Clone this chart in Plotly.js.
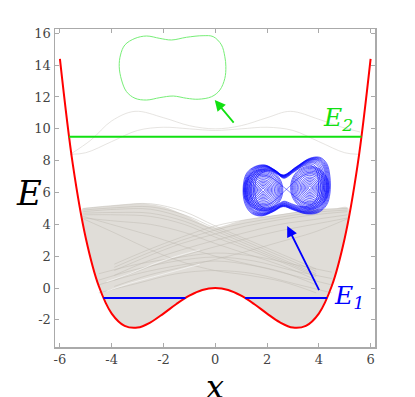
<!DOCTYPE html>
<html>
<head>
<meta charset="utf-8">
<script src="https://cdn.plot.ly/plotly-3.0.1.min.js"></script>
<style>
  html, body { margin: 0; padding: 0; background: #fff; }
  #chart { width: 415px; height: 397px; }
</style>
</head>
<body>
<div id="chart"></div>
<script>
// potential V(x)
const potX = [-6, -5.5, -5, -4.5, -4, -3.5, -3, -2.5, -2, -1.5, -1, -0.5, 0, 0.5, 1, 1.5, 2, 2.5, 3, 3.5, 4, 4.5, 5, 5.5, 6];
const potE = [14.4, 7.75, 3.13, 0.13, -1.6, -2.37, -2.48, -2.15, -1.6, -1.0, -0.48, -0.12, 0, -0.12, -0.48, -1.0, -1.6, -2.15, -2.48, -2.37, -1.6, 0.13, 3.13, 7.75, 14.4];

// energy levels
const e1X = [-4.32, -1.15, null, 1.15, 4.32];
const e1E = [-0.62, -0.62, null, -0.62, -0.62];
const e2X = [-5.65, 5.65];
const e2E = [9.5, 9.5];

// top edge of the grey cloud of trajectories
const cloudTopX = [-5.15, -4.5, -3.5, -2.7, -2, -1.2, -0.3, 0, 0.5, 1.2, 2, 3, 4, 4.6, 5.12];
const cloudTopE = [5.0, 5.1, 5.25, 5.3, 5.1, 4.6, 3.9, 3.8, 4.0, 4.3, 4.5, 4.75, 4.95, 5.0, 5.05];

// individual grey trajectories
const leftRunX = [-5.1, -3.8, -2.5, -1.2, 0, 1.3, 2.6, 3.9];
const leftRuns = [
  [5.0, 5.2, 5.3, 4.8, 3.9, 3.0, 2.1, 1.2],
  [4.9, 5.05, 5.1, 4.6, 3.75, 2.85, 1.95, 1.05],
  [4.8, 4.95, 4.95, 4.4, 3.6, 2.7, 1.8, 0.9],
  [4.7, 4.75, 4.7, 4.2, 3.4, 2.55, 1.7, 0.8],
  [4.6, 4.6, 4.5, 4.0, 3.2, 2.4, 1.6, 0.7],
  [4.4, 4.2, 4.0, 3.5, 2.8, 2.1, 1.4, 0.5],
  [4.5, 3.9, 3.3, 2.6, 2.0, 1.5, 1.0, 0.2],
  [4.35, 3.4, 2.4, 1.6, 1.1, 0.8, 0.4, -0.3]
];
const rightRunX = [5.1, 3.8, 2.5, 1.2, 0, -1.3, -2.6, -3.9];
const rightRuns = [
  [5.0, 4.9, 4.6, 4.3, 3.9, 3.2, 2.4, 1.5],
  [4.9, 4.75, 4.45, 4.1, 3.65, 3.0, 2.2, 1.3],
  [4.8, 4.6, 4.3, 3.9, 3.4, 2.8, 2.0, 1.1],
  [4.6, 4.3, 4.0, 3.5, 3.0, 2.4, 1.7, 0.8],
  [4.4, 4.0, 3.6, 3.1, 2.6, 2.0, 1.3, 0.5],
  [4.35, 3.5, 2.9, 2.3, 1.8, 1.3, 0.8, 0.1]
];
const lowRunX = [-4.5, -3, -1.5, 0, 1.5, 3, 4.5];
const lowRuns = [
  [0.9, 1.5, 1.9, 2.2, 2.0, 1.5, 1.0],
  [0.5, 1.2, 1.7, 1.95, 1.7, 1.1, 0.6],
  [0.2, 0.9, 1.4, 1.7, 1.4, 0.8, 0.2],
  [-0.3, 0.3, 0.9, 1.1, 0.9, 0.3, -0.3]
];
// light streaks inside the cloud
const gapRunX = [-4.2, -3.3, -2.4, -1.5, -0.6];
const gapRuns = [
  [0.4, 0.9, 1.5, 2.0, 2.4],
  [-0.2, 0.3, 0.7, 1.1, 1.5]
];

// the two faint trajectories above E2
const highAX = [-5.6, -4.8, -4, -3.1, -2, -1, 0, 1, 2, 2.9, 4, 4.9, 5.6];
const highAE = [8.4, 9.3, 10.5, 11.1, 10.7, 10.2, 10.0, 10.2, 10.7, 11.1, 10.6, 10.1, 9.8];
const highBX = [-5.6, -5, -4, -3, -2, -1, 0, 1, 2, 3, 4, 5, 5.55];
const highBE = [8.4, 8.5, 9.2, 9.9, 10.1, 10.0, 9.9, 10.0, 10.1, 9.9, 9.2, 8.5, 8.4];

// green inset (regular orbit at E2)
const greenLoopX = [-1.69, -1.11, -0.47, -0.08, 0.24, 0.37, 0.41, 0.37, 0.18, -0.14, -0.66, -1.11, -1.62, -2.14, -2.65, -3.1, -3.43, -3.62, -3.71, -3.66, -3.49, -3.1, -2.65, -2.14, -1.69];
const greenLoopE = [15.58, 15.75, 15.85, 15.79, 15.27, 14.53, 13.91, 13.17, 12.44, 12.02, 11.86, 11.92, 12.06, 11.96, 11.81, 11.92, 12.34, 13.07, 13.91, 14.64, 15.27, 15.68, 15.83, 15.68, 15.58];

// blue inset (chaotic orbit at E1)
const blueOuterX = [2.62, 3.14, 3.65, 4.04, 4.3, 4.43, 4.43, 4.3, 3.98, 3.52, 3.01, 2.62, 2.24, 1.79, 1.4, 1.14, 1.08, 1.21, 1.53, 1.92, 2.3, 2.62];
const blueOuterE = [7.1, 7.63, 8.15, 8.21, 7.84, 7.0, 5.95, 5.22, 4.74, 4.66, 4.91, 5.12, 4.8, 4.53, 4.7, 5.33, 6.37, 7.21, 7.63, 7.73, 7.42, 7.1];
const blueOuterScales = [1, 0.98, 0.96, 0.94, 0.92, 0.9, 0.87, 0.84, 0.81, 0.77, 0.73];
const ringX = [1, 0.87, 0.5, 0, -0.5, -0.87, -1, -0.87, -0.5, 0, 0.5, 0.87, 1];
const ringE = [0, 0.5, 0.87, 1, 0.87, 0.5, 0, -0.5, -0.87, -1, -0.87, -0.5, 0];
const lobeX = [1.85, 3.65];
const lobeE = [6.16, 6.3];
const lobeRadX = [0.76, 0.74];
const lobeRadE = [1.3, 1.35];
const lobeScales = [1, 0.95, 0.9, 0.84, 0.78, 0.72, 0.65, 0.58, 0.5, 0.43, 0.36, 0.29, 0.22, 0.15, 0.08];
const eightX = [2.75, 3.3, 3.9, 4.3, 4.1, 3.5, 2.75, 2.1, 1.5, 1.15, 1.4, 2.0, 2.75];
const eightE = [6.2, 7.0, 7.3, 6.5, 5.5, 5.3, 6.2, 7.0, 7.1, 6.3, 5.3, 5.2, 6.2];
const eightScales = [1, 0.9];

const xTickVals = [-6, -4, -2, 0, 2, 4, 6];
const xTickText = ['-6', '-4', '-2', '0', '2', '4', '6'];
const yTickVals = [-2, 0, 2, 4, 6, 8, 10, 12, 14, 16];
const yTickText = ['-2', '0', '2', '4', '6', '8', '10', '12', '14', '16'];

const RED = '#ff0000';
const BLUE = '#0000ff';
const GREEN = '#11e011';
const GREY = 'rgba(190,185,178,0.6)';

function line(x, y, color, width, extra) {
    return Object.assign({
        x: x, y: y, type: 'scatter', mode: 'lines', hoverinfo: 'skip',
        showlegend: false,
        line: { color: color, width: width, shape: 'spline', smoothing: 1 }
    }, extra || {});
}

// scale a typed shape about a centre
function scaled(xs, ys, cx, cy, sx, sy) {
    return [xs.map(v => cx + (v - cx) * sx), ys.map(v => cy + (v - cy) * sy)];
}

const traces = [];

// grey cloud: top edge then back along the potential
const cloudX = cloudTopX.slice();
const cloudE = cloudTopE.slice();
for (let i = potX.length - 1; i >= 0; i--) {
    if (Math.abs(potX[i]) <= 5) { cloudX.push(potX[i]); cloudE.push(potE[i]); }
}
cloudX.push(cloudTopX[0]);
cloudE.push(4.33);
traces.push(line(cloudX, cloudE, 'rgba(0,0,0,0)', 0, { fill: 'toself', fillcolor: 'rgb(224,221,216)' }));

leftRuns.forEach(r => traces.push(line(leftRunX, r, GREY, 0.8)));
rightRuns.forEach(r => traces.push(line(rightRunX, r, GREY, 0.8)));
lowRuns.forEach(r => traces.push(line(lowRunX, r, GREY, 0.8)));
gapRuns.forEach(r => traces.push(line(gapRunX, r, 'rgba(255,255,255,0.7)', 0.8)));
traces.push(line(highAX, highAE, 'rgba(215,212,207,0.8)', 0.8));
traces.push(line(highBX, highBE, 'rgba(215,212,207,0.8)', 0.8));

// blue inset
blueOuterScales.forEach(s => {
    const p = scaled(blueOuterX, blueOuterE, 2.75, 6.35, s, s);
    traces.push(line(p[0], p[1], BLUE, 0.6));
});
lobeX.forEach((cx, k) => {
    lobeScales.forEach(s => {
        const xs = ringX.map(v => cx + v * lobeRadX[k] * s);
        const ys = ringE.map(v => lobeE[k] + v * lobeRadE[k] * s);
        traces.push(line(xs, ys, BLUE, 0.6));
    });
});
eightScales.forEach(s => {
    const p = scaled(eightX, eightE, 2.75, 6.2, s, s);
    traces.push(line(p[0], p[1], 'rgba(0,0,255,0.5)', 0.5));
});

// green inset
traces.push(line(greenLoopX, greenLoopE, '#77ee77', 1));

// potential and energy levels
traces.push(line(potX, potE, RED, 2));
traces.push(line(e1X, e1E, BLUE, 2, { line: { color: BLUE, width: 2, shape: 'linear' } }));
traces.push(line(e2X, e2E, GREEN, 2, { line: { color: GREEN, width: 2, shape: 'linear' } }));

const serif = 'DejaVu Serif';

const axisCommon = {
    showgrid: false, zeroline: false, showline: true, linecolor: '#aaaaaa', linewidth: 1.5,
    mirror: 'allticks', ticks: 'inside', ticklen: 4, tickcolor: '#aaaaaa', tickwidth: 1,
    tickfont: { family: serif, size: 13, color: '#444444' }
};

const layout = {
    width: 415, height: 397,
    margin: { l: 55, r: 40, t: 29, b: 50, autoexpand: false },
    paper_bgcolor: '#ffffff', plot_bgcolor: '#ffffff',
    font: { family: serif },
    xaxis: Object.assign({}, axisCommon, {
        range: [-6.19, 6.17], tickvals: xTickVals, ticktext: xTickText
    }),
    yaxis: Object.assign({}, axisCommon, {
        range: [-3.7, 16.27], tickvals: yTickVals, ticktext: yTickText
    }),
    annotations: [
        { xref: 'paper', yref: 'paper', x: -0.128, y: 0.484, text: 'E', showarrow: false,
          font: { family: serif, size: 34, color: '#000', style: 'italic' } },
        { xref: 'paper', yref: 'paper', x: 0.5, y: -0.06, yanchor: 'top', text: 'x', showarrow: false,
          font: { family: serif, size: 32, color: '#000', style: 'italic' } },
        { x: 5.15, y: -0.55, text: 'E<sub>1</sub>', showarrow: false,
          font: { family: serif, size: 25, color: BLUE, style: 'italic' } },
        { x: 4.75, y: 10.6, text: 'E<sub>2</sub>', showarrow: false,
          font: { family: serif, size: 25, color: GREEN, style: 'italic' } },
        { x: -0.02, y: 11.81, ax: 0.76, ay: 10.3, axref: 'x', ayref: 'y', text: '',
          showarrow: true, arrowhead: 2, arrowsize: 1.2, arrowwidth: 1.8, arrowcolor: GREEN },
        { x: 2.78, y: 3.9, ax: 4.04, ay: -0.22, axref: 'x', ayref: 'y', text: '',
          showarrow: true, arrowhead: 2, arrowsize: 1.2, arrowwidth: 1.8, arrowcolor: BLUE }
    ]
};

Plotly.newPlot('chart', traces, layout, { displayModeBar: false, staticPlot: true });
</script>
</body>
</html>
